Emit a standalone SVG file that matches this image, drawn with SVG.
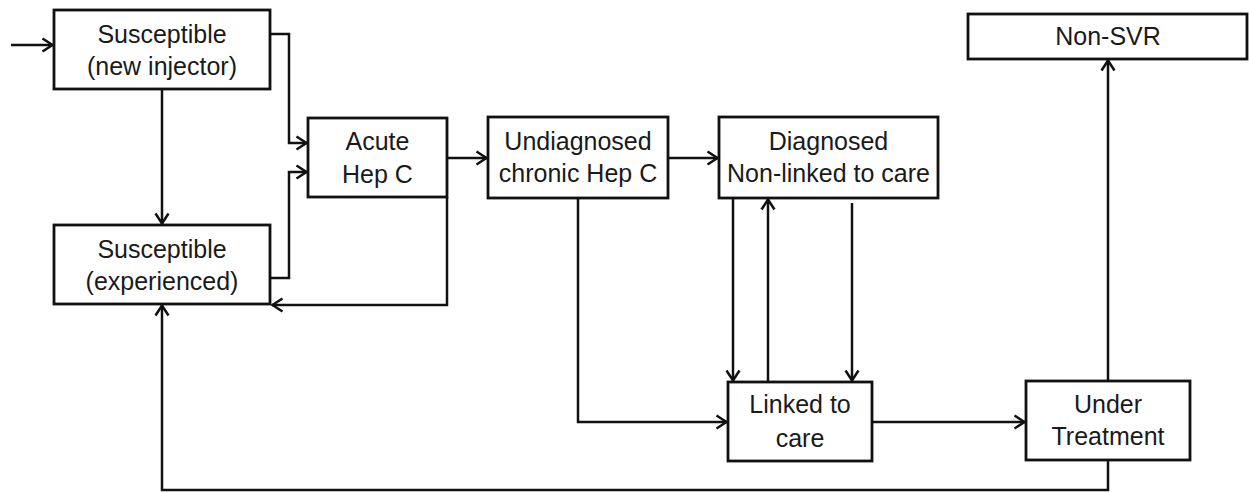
<svg xmlns="http://www.w3.org/2000/svg" width="1249" height="493" viewBox="0 0 1249 493">
<style>
.box{fill:#fff;stroke:#111;stroke-width:2.8}
.lbl{font-family:"Liberation Sans",Arial,sans-serif;font-size:25px;fill:#1a1a1a;text-anchor:middle}
.con{fill:none;stroke:#111;stroke-width:2.5;marker-end:url(#arr)}
</style>
<defs>
<marker id="arr" viewBox="0 0 13 16" refX="12" refY="8" markerWidth="13" markerHeight="16" markerUnits="userSpaceOnUse" orient="auto">
<path d="M1.5,1.5 L11.5,8 L1.5,14.5" fill="none" stroke="#111" stroke-width="2.5"/>
</marker>
</defs>
<rect width="1249" height="493" fill="#fff"/>
<g id="connectors">
<path class="con" d="M11,45 H53"/>
<path class="con" d="M162,89 V224"/>
<path class="con" d="M270,34 H289 V143 H307"/>
<path class="con" d="M270,278 H289 V172 H307"/>
<path class="con" d="M447,197 V305 H272"/>
<path class="con" d="M447,158 H487"/>
<path class="con" d="M668,158 H718"/>
<path class="con" d="M578,198 V422 H727"/>
<path class="con" d="M733,198 V381"/>
<path class="con" d="M768,382 V199"/>
<path class="con" d="M852,203 V381"/>
<path class="con" d="M872,422 H1025"/>
<path class="con" d="M1108,381 V60"/>
<path class="con" d="M1108,460 V490 H162 V305"/>
</g>
<g id="n-new">
<rect class="box" x="54" y="10" width="216" height="79"/>
<text class="lbl" x="162" y="43">Susceptible</text>
<text class="lbl" x="162" y="75">(new injector)</text>
</g>
<g id="n-exp">
<rect class="box" x="54" y="225" width="216" height="79"/>
<text class="lbl" x="162" y="258">Susceptible</text>
<text class="lbl" x="162" y="290">(experienced)</text>
</g>
<g id="n-acute">
<rect class="box" x="308" y="118" width="139" height="79"/>
<text class="lbl" x="377.5" y="150">Acute</text>
<text class="lbl" x="377.5" y="183">Hep C</text>
</g>
<g id="n-undiag">
<rect class="box" x="488" y="117" width="180" height="81"/>
<text class="lbl" x="578" y="150">Undiagnosed</text>
<text class="lbl" x="578" y="182">chronic Hep C</text>
</g>
<g id="n-diag">
<rect class="box" x="719" y="117" width="219" height="81"/>
<text class="lbl" x="828.5" y="150">Diagnosed</text>
<text class="lbl" x="828.5" y="182">Non-linked to care</text>
</g>
<g id="n-linked">
<rect class="box" x="728" y="382" width="144" height="79"/>
<text class="lbl" x="800" y="413">Linked to</text>
<text class="lbl" x="800" y="447">care</text>
</g>
<g id="n-treat">
<rect class="box" x="1026" y="381" width="164" height="79"/>
<text class="lbl" x="1108" y="413">Under</text>
<text class="lbl" x="1108" y="445">Treatment</text>
</g>
<g id="n-nonsvr">
<rect class="box" x="968" y="14" width="279" height="45"/>
<text class="lbl" x="1108" y="45">Non-SVR</text>
</g>
</svg>
